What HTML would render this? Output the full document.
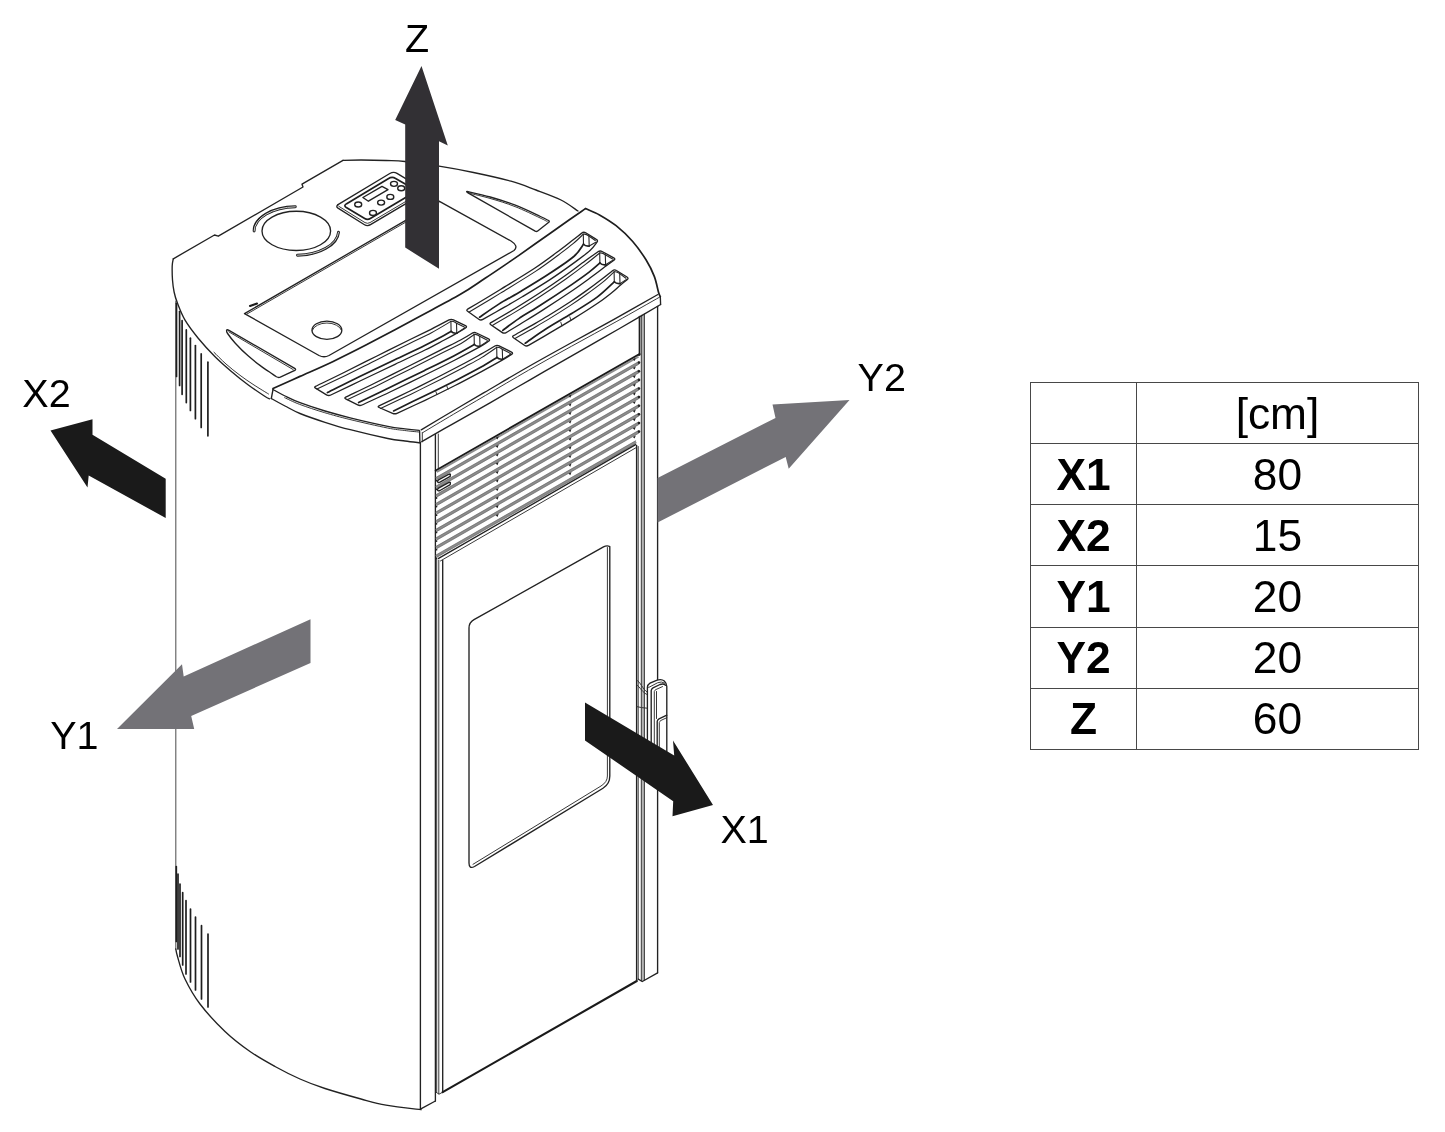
<!DOCTYPE html>
<html lang="en">
<head>
<meta charset="utf-8">
<title>Minimum clearances – pellet stove</title>
<style>
html,body{margin:0;padding:0;background:#fff;}
body{width:1445px;height:1132px;position:relative;overflow:hidden;font-family:"Liberation Sans",sans-serif;color:#000;}
#drawing{position:absolute;left:0;top:0;width:1445px;height:1132px;display:block;}
#drawing path,#drawing ellipse{fill:none;stroke-linecap:round;stroke-linejoin:round;}
#drawing .l{stroke:#222;stroke-width:1.35;}
#drawing .l2{stroke:#262626;stroke-width:1.1;}
#drawing .m{stroke:#1e1e1e;stroke-width:1.7;}
#drawing .b{stroke:#1a1a1a;stroke-width:2.1;}
#drawing .t{stroke:#2e2e2e;stroke-width:.95;}
#drawing .g{stroke:#5a5a5a;stroke-width:1.1;}
#drawing .w{fill:#fff;stroke:#222;stroke-width:1.35;}
#drawing .sl{stroke:#8c8c8c;stroke-width:2.6;stroke-linecap:butt;}
#drawing .se{stroke:#5e5e5e;stroke-width:.6;stroke-linecap:butt;}
#drawing .sg{stroke:#8c8c8c;stroke-width:2;stroke-linecap:butt;}
#drawing .so{stroke:#1e1e1e;stroke-width:2.9;}
#drawing .si{stroke:#c9c9c9;stroke-width:1;}
#drawing .dot{fill:#222;stroke:none;}
#drawing .wf{fill:#fff;stroke:none;}
#drawing .ak{fill:#1a1a1a;stroke:none;}
#drawing .az{fill:#323034;stroke:none;}
#drawing .ag{fill:#737277;stroke:none;}
#drawing{will-change:transform;}
table.clear{will-change:transform;}
#drawing text{font-family:"Liberation Sans",sans-serif;font-size:39.5px;fill:#000;}
table.clear{position:absolute;left:1030px;top:382px;border-collapse:collapse;table-layout:fixed;width:389px;}
table.clear td,table.clear th{border:1px solid #484848;height:60px;padding:0;text-align:center;vertical-align:middle;font-size:44.3px;line-height:60px;font-weight:400;}
table.clear th{font-weight:700;}
table.clear col.c1{width:106px;}
table.clear tr.hi td,table.clear tr.hi th{height:58px;line-height:58px;padding-top:2px;}
table.clear tr.mid td,table.clear tr.mid th{height:60px;padding-top:1px;}
</style>
</head>
<body>
<svg id="drawing" viewBox="0 0 1445 1132" width="1445" height="1132" role="img" aria-label="Pellet stove with minimum clearance arrows">
<g id="body">
<path class="g" d="M175.8,301 L175.8,949"/>
<path class="l" d="M175.8,949 C176.1,950.2 176,951.5 177.5,956.5 C179,961.5 181.2,971.1 185,979 C188.8,986.9 193.3,995.2 200,1004 C206.7,1012.8 216.7,1023.6 225,1031.5 C233.3,1039.4 241.7,1045.7 250,1051.5 C258.3,1057.3 266.7,1061.9 275,1066.5 C283.3,1071.1 291.7,1075.3 300,1079 C308.3,1082.7 314.8,1085.2 325,1088.5 C335.2,1091.8 350.8,1096.2 361,1099 C371.2,1101.8 376,1103.4 386,1105.2 C396,1107 415.2,1109 421,1109.7"/>
<path class="m" d="M176.5,303.3 L176.5,376.4"/>
<path class="m" d="M179.6,311.6 L179.6,385.5"/>
<path class="m" d="M182.1,320.7 L182.1,394.3"/>
<path class="m" d="M186.3,329.9 L186.3,402.6"/>
<path class="m" d="M190.4,338.2 L190.4,410.4"/>
<path class="m" d="M195.4,345.6 L195.4,418.7"/>
<path class="m" d="M201.2,353.9 L201.2,427.5"/>
<path class="m" d="M207.9,362.2 L207.9,435.8"/>
<path class="m" d="M176.3,866.5 L176.3,941.5"/>
<path class="m" d="M178,874 L178,949"/>
<path class="m" d="M180,884 L180,956.5"/>
<path class="m" d="M182.7,892.7 L182.7,965"/>
<path class="m" d="M186,900.7 L186,974"/>
<path class="m" d="M190.5,909 L190.5,982"/>
<path class="m" d="M195.5,917 L195.5,990"/>
<path class="m" d="M201.5,925.7 L201.5,999"/>
<path class="m" d="M208,934 L208,1007"/>
</g>
<g id="front">
<path class="l" d="M420.4,442.5 L420.4,1109.2"/>
<path class="l" d="M435.4,434.6 L435.4,1101"/>
<path class="l" d="M420.4,1109.2 L435.4,1101"/>
<path class="t" d="M436.7,559 L436.7,1092.2"/>
<path class="t" d="M438.8,560 L438.8,1093.8"/>
<path class="l" d="M442.7,560.5 L442.7,1092.2"/>
<path class="t" d="M435.8,1092 L439,1094.2 L442.7,1092.2"/>
<path class="t" d="M438.3,434 L438.3,468.3"/>
<path class="b" d="M442.7,1092.2 L636.8,981"/>
<path class="l" d="M636.6,445.5 L636.6,981"/>
<path class="t" d="M638.2,446.5 L638.2,979.3"/>
<path class="m" d="M639.5,316.6 L639.5,355"/>
<rect x="641.3" y="314.5" width="3.1" height="666" fill="#b4b4b4" stroke="none"/>
<path class="t" d="M641.3,315.5 L641.3,981"/>
<path class="t" d="M644.4,314 L644.4,980"/>
<path class="l" d="M657.6,306.3 L657.6,972.8"/>
<path class="l" d="M638.2,979.2 L642.3,981.5 L657.6,972.8"/>
<path class="b" d="M435.8,470.6 L639.5,354.1"/>
<path class="sg" d="M436.8,471.9 L638.5,356.6"/>
<path class="sl" d="M436.1,478.7 L638.9,362.8"/>
<path class="se" d="M436.1,477.3 L638.9,361.4"/>
<path class="se" d="M436.1,480.1 L638.9,364.2"/>
<circle class="dot" cx="639" cy="362.6" r="1.3"/>
<circle class="dot" cx="436.5" cy="480.7" r=".9"/>
<path class="sl" d="M436.1,487.4 L638.9,371.4"/>
<path class="se" d="M436.1,486 L638.9,370"/>
<path class="se" d="M436.1,488.8 L638.9,372.8"/>
<circle class="dot" cx="639" cy="371.2" r="1.3"/>
<circle class="dot" cx="436.5" cy="489.3" r=".9"/>
<path class="sl" d="M436.1,496 L638.9,380"/>
<path class="se" d="M436.1,494.6 L638.9,378.6"/>
<path class="se" d="M436.1,497.4 L638.9,381.4"/>
<circle class="dot" cx="639" cy="379.9" r="1.3"/>
<circle class="dot" cx="436.5" cy="498" r=".9"/>
<path class="sl" d="M436.1,504.6 L638.9,388.6"/>
<path class="se" d="M436.1,503.2 L638.9,387.2"/>
<path class="se" d="M436.1,506 L638.9,390"/>
<circle class="dot" cx="639" cy="388.5" r="1.3"/>
<circle class="dot" cx="436.5" cy="506.6" r=".9"/>
<path class="sl" d="M436.1,513.2 L638.9,397.2"/>
<path class="se" d="M436.1,511.8 L638.9,395.8"/>
<path class="se" d="M436.1,514.6 L638.9,398.6"/>
<circle class="dot" cx="639" cy="397.1" r="1.3"/>
<circle class="dot" cx="436.5" cy="515.2" r=".9"/>
<path class="sl" d="M436.1,521.8 L638.9,405.9"/>
<path class="se" d="M436.1,520.4 L638.9,404.5"/>
<path class="se" d="M436.1,523.2 L638.9,407.3"/>
<circle class="dot" cx="639" cy="405.7" r="1.3"/>
<circle class="dot" cx="436.5" cy="523.8" r=".9"/>
<path class="sl" d="M436.1,530.5 L638.9,414.5"/>
<path class="se" d="M436.1,529.1 L638.9,413.1"/>
<path class="se" d="M436.1,531.9 L638.9,415.9"/>
<circle class="dot" cx="639" cy="414.3" r="1.3"/>
<circle class="dot" cx="436.5" cy="532.4" r=".9"/>
<path class="sl" d="M436.1,539.1 L638.9,423.1"/>
<path class="se" d="M436.1,537.7 L638.9,421.7"/>
<path class="se" d="M436.1,540.5 L638.9,424.5"/>
<circle class="dot" cx="639" cy="423" r="1.3"/>
<circle class="dot" cx="436.5" cy="541.1" r=".9"/>
<path class="sl" d="M436.1,547.7 L638.9,431.7"/>
<path class="se" d="M436.1,546.3 L638.9,430.3"/>
<path class="se" d="M436.1,549.1 L638.9,433.1"/>
<circle class="dot" cx="639" cy="431.6" r="1.3"/>
<circle class="dot" cx="436.5" cy="549.7" r=".9"/>
<path class="sl" d="M436.1,556.3 L636.1,441.9"/>
<path class="se" d="M436.1,554.9 L636.1,440.5"/>
<path class="se" d="M436.1,557.7 L636.1,443.3"/>
<circle class="dot" cx="436.5" cy="558.3" r=".9"/>
<path class="dot" d="M495.7,437.7 L498.7,436.2 L497.5,439.4 Z"/>
<path class="dot" d="M568.5,396 L571.5,394.5 L570.3,397.7 Z"/>
<path class="dot" d="M632.8,359.3 L635.8,357.8 L634.6,361 Z"/>
<path class="dot" d="M495.7,446.3 L498.7,444.8 L497.5,448 Z"/>
<path class="dot" d="M568.5,404.7 L571.5,403.2 L570.3,406.4 Z"/>
<path class="dot" d="M632.8,367.9 L635.8,366.4 L634.6,369.6 Z"/>
<path class="dot" d="M495.7,454.9 L498.7,453.4 L497.5,456.6 Z"/>
<path class="dot" d="M568.5,413.3 L571.5,411.8 L570.3,415 Z"/>
<path class="dot" d="M632.8,376.5 L635.8,375 L634.6,378.2 Z"/>
<path class="dot" d="M495.7,463.5 L498.7,462 L497.5,465.2 Z"/>
<path class="dot" d="M568.5,421.9 L571.5,420.4 L570.3,423.6 Z"/>
<path class="dot" d="M632.8,385.1 L635.8,383.6 L634.6,386.8 Z"/>
<path class="dot" d="M495.7,472.2 L498.7,470.7 L497.5,473.9 Z"/>
<path class="dot" d="M568.5,430.5 L571.5,429 L570.3,432.2 Z"/>
<path class="dot" d="M632.8,393.8 L635.8,392.3 L634.6,395.5 Z"/>
<path class="dot" d="M495.7,480.8 L498.7,479.3 L497.5,482.5 Z"/>
<path class="dot" d="M568.5,439.1 L571.5,437.6 L570.3,440.8 Z"/>
<path class="dot" d="M632.8,402.4 L635.8,400.9 L634.6,404.1 Z"/>
<path class="dot" d="M495.7,489.4 L498.7,487.9 L497.5,491.1 Z"/>
<path class="dot" d="M568.5,447.8 L571.5,446.3 L570.3,449.5 Z"/>
<path class="dot" d="M632.8,411 L635.8,409.5 L634.6,412.7 Z"/>
<path class="dot" d="M495.7,498 L498.7,496.5 L497.5,499.7 Z"/>
<path class="dot" d="M568.5,456.4 L571.5,454.9 L570.3,458.1 Z"/>
<path class="dot" d="M632.8,419.6 L635.8,418.1 L634.6,421.3 Z"/>
<path class="dot" d="M495.7,506.6 L498.7,505.1 L497.5,508.3 Z"/>
<path class="dot" d="M568.5,465 L571.5,463.5 L570.3,466.7 Z"/>
<path class="dot" d="M632.8,428.2 L635.8,426.7 L634.6,429.9 Z"/>
<path class="dot" d="M495.7,515.3 L498.7,513.8 L497.5,517 Z"/>
<path class="dot" d="M568.5,473.6 L571.5,472.1 L570.3,475.3 Z"/>
<path class="dot" d="M632.8,436.9 L635.8,435.4 L634.6,438.6 Z"/>
<path class="w" d="M438.5,479.9 L448.5,474.3 Q451,473.3 450.3,475.4 L450.2,476.4 L440,482.2 Q437.3,483.2 437.5,480.9 Z"/>
<path class="w" d="M438.5,488.2 L448.5,482.6 Q451,481.6 450.3,483.7 L450.2,484.7 L440,490.5 Q437.3,491.5 437.5,489.2 Z"/>
<path class="l" d="M438.6,558.4 L635.6,444.7"/>
<path class="t" d="M440.5,560.9 L636.2,447.6"/>
<path class="l" d="M469,628 Q469,622.5 474,619.7 L603.5,546.8 Q607,545 609.8,546.5 L609.8,776 Q609.8,784 603,788.2 L474.5,866.5 Q469,869.5 469,863 Z"/>
<path class="t" d="M607.4,547.5 L607.4,776 Q607.4,782 601,786 L473,864.3"/>
<path class="t" d="M636.8,680.3 C640,681 643,690 647.4,692.3"/>
<path class="t" d="M636.8,684.8 C640,687 643,693.5 647.4,694.6"/>
<path class="t" d="M636.8,706.6 L641.5,707.6 L647.4,708.2"/>
<path class="w" d="M647.4,756 L647.4,687.5 Q647.6,684.6 650,683.2 L656.5,680.3 Q661.5,678.6 664.3,681 Q666.8,683.5 666.8,686.5 L666.8,756 Z"/>
<path d="M647.4,756 L647.4,688 L651.2,690 L651.2,756 Z" fill="#bdbdbd" stroke="none"/>
<path d="M651.2,756 L651.2,690 L654.3,691.5 L654.3,756 Z" fill="#dcdcdc" stroke="none"/>
<path d="M657.2,756 L657.2,721.5 L659.3,722.5 L659.3,756 Z" fill="#c4c4c4" stroke="none"/>
<path class="t" d="M648.6,687.5 L657.5,682.8 Q661.5,681 664.5,683"/>
<path class="l" d="M651.2,756 L651.2,690.5 Q651.3,688.8 653,687.8 L660,684.5 Q663.5,683.2 665.5,685.2"/>
<path class="t" d="M654.3,756 L654.3,691.5 Q654.5,690.3 656,689.5 L662.5,686.6"/>
<path class="t" d="M656.5,718.5 L656.5,691.5"/>
<path class="l" d="M657.2,756 L657.2,721.5 Q657.2,719.8 659,718.8 L666.8,715.2"/>
<path class="t" d="M659.3,756 L659.3,722.5 Q659.5,721.3 661,720.4 L666.8,717.7"/>
</g>
<g id="top">
<path class="l" d="M343,160.3 L302,184.2 L303,187 L218.3,236.2 L214.5,235 L173.3,258.8"/>
<path class="l" d="M173.3,258.8 C173.1,260 172.3,262.5 172.2,266 C172.1,269.5 172.2,275.7 172.5,280 C172.8,284.3 173.3,288.1 174.1,292 C174.9,295.9 175.7,298.7 177.5,303.3 C179.3,307.9 181.5,314.1 184.9,319.9 C188.3,325.7 193.2,332.1 198.2,338.2 C203.2,344.3 209.3,350.9 214.8,356.4 C220.3,361.9 225.9,366.7 231.4,371.4 C236.9,376.1 242.4,380.5 248,384.7 C253.6,388.9 261.1,393.9 264.7,396.3 C268.3,398.7 268.8,398.4 269.6,398.8"/>
<path class="l" d="M343,160.3 C346,160.2 353.8,160 361,160 C368.2,160 378.7,160.2 386,160.5 C393.3,160.8 396.2,160.6 405,161.5 C413.8,162.4 427.6,164.4 439,166.2 C450.4,168 461.5,170 473.5,172.5 C485.5,175 500.6,178.3 511,181.2 C521.4,184.1 527.7,186.9 536,190 C544.3,193.1 554,196.5 561,200 C568,203.5 575.2,209.2 578,211"/>
<ellipse class="l" cx="296.3" cy="230.9" rx="34.3" ry="19.6"/>
<path class="so" d="M254.1,231 A42.2,24.2 0 0 1 295.3,206.8"/>
<path class="si" d="M254.1,231 A42.2,24.2 0 0 1 295.3,206.8"/>
<path class="so" d="M338.5,232.3 A42.2,24.2 0 0 1 297.5,255.2"/>
<path class="si" d="M338.5,232.3 A42.2,24.2 0 0 1 297.5,255.2"/>
<path class="l" d="M338,204.6 L389.8,173.5 Q393.5,171.3 397,173.3 L424.5,189.8"/>
<path class="l" d="M338,204.6 Q335.6,206.4 338,208.1 L364.5,224.7 Q367.5,226.5 370.5,224.7 L424.5,192.7"/>
<path class="t" d="M338.8,206.3 L365,222.6 Q367.5,224 370,222.6 L424.5,190.4"/>
<path class="m" d="M346.3,203.9 L388.2,178.7 Q392,176.4 395.6,178.4 L417,190.8 L370.3,218.6 Q367.5,220.2 364.7,218.6 L346.3,207.6 Q343.4,205.7 346.3,203.9 Z"/>
<ellipse class="l" cx="358.2" cy="204.5" rx="3.5" ry="2.5"/>
<ellipse class="l" cx="373" cy="212.9" rx="3.5" ry="2.5"/>
<ellipse class="l" cx="381.1" cy="202.6" rx="3.5" ry="2.5"/>
<ellipse class="l" cx="390.3" cy="196.9" rx="3.5" ry="2.5"/>
<ellipse class="l" cx="394" cy="183.8" rx="3.5" ry="2.5"/>
<ellipse class="l" cx="401.2" cy="188.2" rx="3.5" ry="2.5"/>
<path class="l" d="M362.9,197.5 L382,186.4 L388,189.7 L368.4,201.2Z"/>
<path class="l" d="M244.5,313.6 L439,201.2 L511,241 Q519,246 514,250.5 L329,355.5 Q324,358 319,355.5 Z"/>
<path class="t" d="M246.5,314.3 L439,202.9"/>
<path class="b" d="M250,306 L257,303.6"/>
<ellipse class="l" cx="326.9" cy="330.2" rx="14.9" ry="9.1"/>
<path class="t" d="M312.3,329 A14.9,9.1 0 0 1 341.5,329" transform="translate(0,1.3)"/>
<path class="l" d="M226.6,330.2 C226.8,330.8 226.1,331.3 227.6,333.5 C229.1,335.7 231.9,339.5 235.3,343.2 C238.7,346.9 243.6,351.9 247.8,355.6 C252,359.3 256.1,362.5 260.3,365.6 C264.5,368.7 270.2,372.5 272.9,374.4 C275.6,376.3 275.9,376.4 276.5,376.8 Q278.4,378 280.3,377.2 L294.8,370.4 Q296.4,369.4 294.7,368.4 L229,330.3 Q227,329.2 226.6,330.2"/>
<path class="t" d="M228.8,331.8 L293.2,369.6"/>
<path class="t" d="M214,352.3 C216,354.2 221.7,360.2 226,364 C230.3,367.8 235.3,371.8 240,375.3 C244.7,378.8 249.2,381.9 254,385 C258.8,388.1 266.1,392.5 268.5,394"/>
<path class="l" d="M467,191.4 C470.9,192.3 482.1,194.7 490.2,197 C498.2,199.3 506.9,201.9 515.3,205.2 C523.7,208.4 534.8,213.9 540.4,216.5 C546,219.1 547.2,219.9 548.6,220.6 Q549.8,221.4 548.8,222.3 L537.4,231.2 Q536.4,231.8 535.2,231.2 L468,192.8 Q466,191.6 467,191.4"/>
<path class="t" d="M469.5,193.2 C472.9,194.1 482.4,196.2 490,198.4 C497.6,200.6 506.7,203.3 515,206.6 C523.3,209.8 534.6,215.4 540,217.9 C545.4,220.4 546,221 547.2,221.6"/>
</g>
<g id="grille">
<path class="m" d="M273,388.5 C277.5,386.5 290,380.9 300,376.4 C310,371.9 322.1,366.7 333.2,361.4 C344.3,356.1 352.5,352 366.4,344.8 C380.2,337.6 400.7,326.6 416.3,318.2 C431.9,309.8 448.5,301.2 460,294.6 C471.5,288 476.7,283.8 485.1,278.3 C493.5,272.8 501.8,267.1 510.2,261.4 C518.6,255.6 525.5,250.7 535.3,243.8 C545.1,236.9 560.6,225.9 569,220 C577.4,214.1 582.8,210.5 585.5,208.6"/>
<path class="m" d="M585.5,208.6 C587.8,209.7 594.4,212.1 599.5,214.9 C604.6,217.8 610.6,221.3 616.1,225.7 C621.6,230.1 627.7,235.8 632.7,241.5 C637.7,247.2 642.4,254 646,259.8 C649.6,265.6 652.2,270.9 654.3,276.4 C656.4,281.9 657.6,289.2 658.6,292.6 C659.6,296 660,295.9 660.3,296.5"/>
<path class="l" d="M660.3,296.5 L660.6,304.5"/>
<path class="l" d="M421.2,429.9 C426.3,426.8 441.5,417.7 452,411.5 C462.5,405.3 471.5,400 484,392.7 C496.5,385.4 512.7,375.7 527,367.5 C541.3,359.3 555.3,351.6 570,343.5 C584.7,335.4 600.6,326.8 615.3,318.6 C629.9,310.4 650.8,298.5 657.9,294.5"/>
<path class="t" d="M422.8,432.6 C427.9,429.5 443.1,420.4 453.6,414.2 C464.1,408 473.1,402.7 485.6,395.4 C498.1,388.1 514.3,378.4 528.6,370.2 C542.9,362 556.9,354.3 571.6,346.2 C586.3,338.1 602.2,329.5 616.9,321.3 C631.5,313.1 652.4,301.2 659.5,297.2"/>
<path class="l" d="M421.8,441.7 C426.8,438.8 440.6,430.8 452,424.3 C463.4,417.8 477,410.2 490,402.8 C503,395.4 516.7,387.5 530,379.8 C543.3,372.1 557.9,363.7 570,356.8 C582.1,349.9 591,344.9 602.7,338.2 C614.4,331.5 630.8,322 640.4,316.4 C650,310.8 657.2,306.5 660.6,304.5"/>
<path class="l" d="M419.6,431 L419.9,442.8"/>
<path class="t" d="M422.3,432.5 L422.3,441.8"/>
<path class="l" d="M273,389.5 C275,390.6 280.5,393.8 285,396 C289.5,398.2 293.3,400.2 300,402.7 C306.7,405.2 316.6,408.5 325,411 C333.4,413.5 339.7,415.2 350.2,417.8 C360.7,420.4 378.7,424.5 387.8,426.3 C396.9,428.1 399.8,428.1 405,428.8 C410.2,429.5 416.9,430.1 419.3,430.3"/>
<path class="t" d="M284.7,397.7 C287.2,398.8 293,401.9 299.7,404.4 C306.4,406.9 316.3,410.2 324.7,412.7 C333.1,415.2 339.4,416.9 349.9,419.5 C360.4,422.1 378.4,426.2 387.5,428 C396.6,429.8 399.4,429.8 404.7,430.5 C409.9,431.2 416.6,431.8 419,432"/>
<path class="l" d="M271.3,398.5 C273.6,399.8 280.2,403.5 285,406 C289.8,408.5 293.3,410.8 300,413.5 C306.7,416.2 316.6,419.6 325,422.3 C333.4,425 339.7,427 350.2,429.7 C360.7,432.4 378.7,436.6 387.8,438.5 C396.9,440.4 399.6,440.3 405,441 C410.4,441.7 417.4,442.5 419.9,442.8"/>
<path class="l" d="M273,389.5 L271.3,398.5"/>
<path class="l" d="M315.5,386.4 C320.4,384 334.8,377.1 345,372 C355.2,366.9 366.3,361.3 377,356 C387.7,350.7 400.1,344.4 409.1,340 C418.1,335.6 424.3,332.6 431,329.3 C437.7,326 446.1,321.5 449.1,319.9 Q451.2,318.8 453.4,319.9 L465.4,325.7 Q467.6,326.8 465.5,328 L465.5,328 C464,329 459.6,331.6 456.1,333.6 C452.6,335.6 449.5,337.3 444.3,340 C439.1,342.7 433.2,345.9 425,350 C416.8,354.1 405.8,359.1 395,364.3 C384.2,369.5 370.7,375.9 360,381 C349.3,386.1 335.6,392.6 330.8,395 Q328.6,396 326.5,394.8 L315.5,388.2 Q313.8,387.2 315.5,386.4 Z"/>
<path class="l2" d="M317,389 C321.8,386.7 335.4,380.3 345.5,375.4 C355.6,370.5 366.8,364.7 377.5,359.4 C388.2,354.1 400.6,347.8 409.6,343.4 C418.6,338.9 424.6,336.4 431.5,332.7 C438.4,329 447.7,323.3 450.9,321.4"/>
<path class="l2" d="M450.9,321.4 L451.1,331.4"/>
<path class="l2" d="M456.5,323.2 L456.8,333.2"/>
<path class="l2" d="M450.9,321.4 Q453.4,320.8 456.5,323.2 L464.3,327"/>
<path class="l2" d="M456.8,333.2 L464.9,327.6"/>
<path class="m" d="M451.1,331.4 C449.8,332.1 448,333.3 443.5,335.7 C439,338.1 432.4,341.6 424.2,345.7 C416,349.8 405,354.8 394.2,360 C383.4,365.2 370.3,371.3 359.2,376.7 C348.1,382.1 332.7,390 327.4,392.6"/>
<path class="m" d="M451.1,331.4 Q453.1,333.6 456.8,333.2"/>
<path class="l" d="M345.7,397.2 C350.6,394.8 364.3,388.3 375,383 C385.7,377.7 399.2,370.9 410,365.5 C420.8,360.1 431.6,354.6 440,350.3 C448.4,346.1 455.2,342.9 460.6,340 C466,337.1 470.4,334.3 472.3,333.1 Q474.4,331.9 476.5,333 L488.5,338.9 Q490.6,340 488.6,341.3 L488.6,341.3 C487.3,342.1 486.6,343.1 481,346.2 C475.4,349.3 464.3,355.2 455,360 C445.7,364.8 435.8,369.7 425,375 C414.2,380.3 400.5,387 390,392 C379.5,397 366.6,402.8 362,405 Q359.8,406 357.7,404.9 L345.7,398.9 Q344,398 345.7,397.2 Z"/>
<path class="l2" d="M347.2,399.8 C351.9,397.6 364.9,391.5 375.5,386.4 C386.1,381.2 399.7,374.3 410.5,368.9 C421.3,363.4 432.1,357.9 440.5,353.7 C448.9,349.4 455.5,346.6 461.1,343.4 C466.7,340.2 471.9,336 474.1,334.5"/>
<path class="l2" d="M474.1,334.5 L474.3,344.5"/>
<path class="l2" d="M479.7,336.3 L480,346.3"/>
<path class="l2" d="M474.1,334.5 Q476.6,333.9 479.7,336.3 L487.3,340.2"/>
<path class="l2" d="M480,346.3 L488,340.9"/>
<path class="m" d="M474.3,344.5 C470.9,346.4 462.5,351.3 454.2,355.7 C445.9,360.1 435,365.4 424.2,370.7 C413.4,376 400.1,382.4 389.2,387.7 C378.3,393 363.7,400.1 358.6,402.6"/>
<path class="m" d="M474.3,344.5 Q476.3,346.7 480,346.3"/>
<path class="l" d="M379,405.9 C384.2,403.4 399.8,396 410,391 C420.2,386 430.8,380.7 440,376 C449.2,371.3 458.2,366.6 465,363 C471.8,359.4 476,357 481,354.2 C486,351.4 492.6,347.4 494.9,346 Q497,344.8 499.1,345.9 L511.5,352.1 Q513.6,353.2 511.5,354.4 L511.5,354.4 C509.6,355.6 505.1,358.5 500,361.4 C494.9,364.3 488.5,367.8 481,371.8 C473.5,375.8 464.3,380.8 455,385.5 C445.7,390.2 434.7,395.7 425,400.3 C415.3,404.9 401.6,411.1 397,413.3 Q394.8,414.3 392.6,413.3 L379.1,407.5 Q377.3,406.7 379,405.9 Z"/>
<path class="l2" d="M380.5,408.5 C385.5,406.1 400.5,399.2 410.5,394.4 C420.5,389.5 431.3,384.1 440.5,379.4 C449.7,374.7 458.7,370 465.5,366.4 C472.3,362.8 476.3,360.8 481.5,357.6 C486.7,354.4 494.2,349.1 496.7,347.4"/>
<path class="l2" d="M496.7,347.4 L496.9,357.4"/>
<path class="l2" d="M502.3,349.2 L502.6,359.2"/>
<path class="l2" d="M496.7,347.4 Q499.2,346.8 502.3,349.2 L510.3,353.4"/>
<path class="l2" d="M502.6,359.2 L510.9,354"/>
<path class="m" d="M496.9,357.4 C494.1,359.1 487.3,363.5 480.2,367.5 C473.1,371.5 463.5,376.4 454.2,381.2 C444.9,385.9 434.3,391.1 424.2,396 C414.1,400.9 398.7,408.4 393.6,410.9"/>
<path class="m" d="M496.9,357.4 Q498.9,359.6 502.6,359.2"/>
<path class="l" d="M467.6,309.2 C473,306 488.8,296.6 500,289.7 C511.2,282.8 525,274.6 535,268 C545,261.4 553.7,254.7 560,250 C566.3,245.3 569.3,242.8 572.9,240 C576.5,237.2 580.2,234.2 581.7,233.1 Q583.6,231.6 585.7,232.8 L596.3,239.4 Q598.4,240.6 596.8,242.4 L596.8,242.4 C595.7,243.8 593.6,247.2 590,250.5 C586.4,253.8 581.7,257.2 575,262.1 C568.3,267 558.7,273.9 550,279.6 C541.3,285.3 531,291.5 522.7,296.5 C514.4,301.5 506.6,305.9 500,309.7 C493.4,313.5 485.7,317.8 482.9,319.4 Q480.8,320.6 478.8,319.2 L467.6,311.3 Q466,310.2 467.6,309.2 Z"/>
<path class="l2" d="M469.2,312 C474.4,308.9 489.4,299.9 500.5,293.1 C511.6,286.3 525.5,278 535.5,271.4 C545.5,264.8 554.2,258.1 560.5,253.4 C566.8,248.7 569.6,246.6 573.4,243.4 C577.2,240.2 581.7,235.7 583.3,234.2"/>
<path class="l2" d="M583.3,234.2 L583.5,244.2"/>
<path class="l2" d="M588.9,236 L589.2,246"/>
<path class="l2" d="M583.3,234.2 Q585.8,233.6 588.9,236 L595.3,240.5"/>
<path class="l2" d="M589.2,246 L596.2,242"/>
<path class="m" d="M583.5,244.2 C581.9,246.2 579.6,251.5 573.8,256.5 C568,261.5 557.5,268.3 548.8,274 C540.1,279.7 529.8,285.9 521.5,290.9 C513.2,295.9 505.8,299.7 498.8,304.1 C491.8,308.5 482.8,315 479.6,317.2"/>
<path class="m" d="M583.5,244.2 Q585.5,246.4 589.2,246"/>
<path class="l" d="M490.9,322.6 C494.9,320.3 506.8,313.5 515,308.5 C523.2,303.5 531.7,298.2 540,292.8 C548.3,287.4 557.5,281.1 565,275.8 C572.5,270.5 579.5,265 585,261 C590.5,257 595.9,253.3 598,251.8 Q600,250.4 602.1,251.5 L613.7,257.8 Q615.8,258.9 613.9,260.3 L613.9,260.3 C612.5,261.3 610,263.1 606,266 C602,268.9 595.5,274 590,278 C584.5,282 580.9,284.8 572.9,290.2 C564.9,295.6 551.1,304.7 542.3,310.4 C533.5,316.1 526,320.5 520,324.2 C514,327.9 508.4,331.2 506.1,332.6 Q504,333.8 502,332.4 L490.8,324.7 Q489.2,323.6 490.9,322.6 Z"/>
<path class="l2" d="M492.4,325.4 C496.2,323.2 507.5,316.8 515.5,311.9 C523.5,307 532.2,301.6 540.5,296.2 C548.8,290.8 558,284.5 565.5,279.2 C573,273.9 579.8,268.8 585.5,264.4 C591.2,260 597.3,254.9 599.7,253"/>
<path class="l2" d="M599.7,253 L599.9,263"/>
<path class="l2" d="M605.3,254.8 L605.6,264.8"/>
<path class="l2" d="M599.7,253 Q602.2,252.4 605.3,254.8 L612.6,259"/>
<path class="l2" d="M605.6,264.8 L613.3,259.9"/>
<path class="m" d="M599.9,263 C598.1,264.6 593.5,268.8 588.8,272.4 C584.1,276 579.6,279.2 571.7,284.6 C563.7,290 549.9,299.1 541.1,304.8 C532.3,310.5 525.2,314.3 518.8,318.6 C512.4,322.9 505.5,328.4 502.8,330.4"/>
<path class="m" d="M599.9,263 Q601.9,265.2 605.6,264.8"/>
<path class="l" d="M513.5,335.7 C516.2,334.1 524.3,329.7 530,326.4 C535.7,323.1 541.1,320.1 547.8,316 C554.5,311.9 563.7,306.1 570,302 C576.3,297.9 580.1,295.2 585.4,291.4 C590.7,287.6 597.5,282.5 602,279 C606.5,275.5 610.8,272.1 612.5,270.7 Q614.4,269.2 616.4,270.5 L627,277 Q629,278.3 627.1,279.8 L627.1,279.8 C625.9,280.7 622.5,283.4 620,285.5 C617.5,287.6 615.7,289.6 612,292.5 C608.3,295.4 604.5,298.6 598,303 C591.5,307.4 581.3,313.9 572.9,319.1 C564.5,324.3 555.2,329.7 547.8,334.1 C540.4,338.5 531.7,343.5 528.5,345.4 Q526.4,346.6 524.4,345.2 L513.4,337.7 Q511.8,336.6 513.5,335.7 Z"/>
<path class="l2" d="M515,338.4 C517.6,337 525,333 530.5,329.8 C536,326.6 541.6,323.5 548.3,319.4 C555,315.3 564.2,309.5 570.5,305.4 C576.8,301.3 580.6,298.6 585.9,294.8 C591.2,291 597.8,286.2 602.5,282.4 C607.2,278.6 612.2,273.6 614.1,271.8"/>
<path class="l2" d="M614.1,271.8 L614.3,281.8"/>
<path class="l2" d="M619.7,273.6 L620,283.6"/>
<path class="l2" d="M614.1,271.8 Q616.6,271.2 619.7,273.6 L625.9,278.2"/>
<path class="l2" d="M620,283.6 L626.5,279.4"/>
<path class="m" d="M614.3,281.8 C611.4,284.4 603.9,292.1 596.8,297.4 C589.7,302.7 580.1,308.3 571.7,313.5 C563.3,318.7 554.3,323.6 546.6,328.5 C538.8,333.4 528.8,340.8 525.2,343.2"/>
<path class="m" d="M614.3,281.8 Q616.3,284 620,283.6"/>
<path class="t" d="M435.8,391.5 L437,394.6 M446.8,386.1 L448,389.2"/>
<path class="t" d="M560.8,322.2 L562,325.8 M569.8,316.8 L571,320.4"/>
</g>
<g id="arrows">
<polygon class="az" points="421.5,66 395.2,120 405.2,124.6 405.2,247.6 439,268.8 439,141.3 447.8,145.6"/>
<polygon class="ak" points="50.5,430.5 92.5,419.2 92.5,434.7 165.7,478.7 165.7,518 88.7,475.5 87.5,487.5"/>
<polygon class="ag" points="117,729 182,664.2 183.7,676.5 310.5,619.2 310.5,663 191.2,716 194.2,729"/>
<polygon class="ag" points="657.6,478 775.5,418 772.5,404.5 849.5,400 788.7,468.7 785.7,457 657.6,522.5"/>
<polygon class="ak" points="585,702.5 674.2,755.5 673,740.5 713,805 672.5,816.2 673.2,801.2 585,740.5"/>
</g>
<g id="labels">
<text x="405.1" y="51.7">Z</text>
<text x="22.3" y="407.3">X2</text>
<text x="50.2" y="749">Y1</text>
<text x="857.6" y="391.1">Y2</text>
<text x="720.4" y="842.8">X1</text>
</g>
</svg>
<table class="clear">
<colgroup><col class="c1"><col class="c2"></colgroup>
<tr class="hi"><th></th><td>[cm]</td></tr>
<tr class="hi"><th>X1</th><td>80</td></tr>
<tr class="hi"><th>X2</th><td>15</td></tr>
<tr class="mid"><th>Y1</th><td>20</td></tr>
<tr><th>Y2</th><td>20</td></tr>
<tr><th>Z</th><td>60</td></tr>
</table>
</body>
</html>
